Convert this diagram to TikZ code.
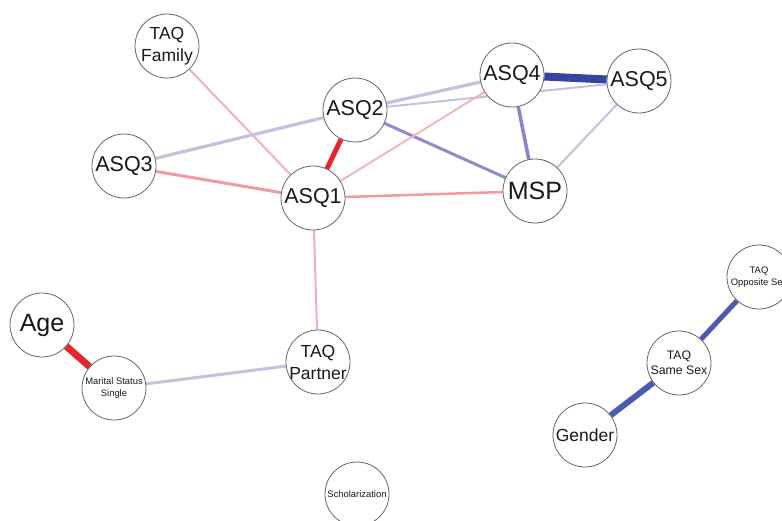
\documentclass[tikz,border=0pt]{standalone}
\usepackage{fontspec}
\setmainfont{Liberation Sans}
\usetikzlibrary{backgrounds}

\definecolor{pinkfaint}{HTML}{F6B0B5}
\definecolor{pinkmid}{HTML}{F29AA1}
\definecolor{redstrong}{HTML}{E4262E}
\definecolor{lavender}{HTML}{C3C0E3}
\definecolor{bluemid}{HTML}{8F8CCC}
\definecolor{bluestrong}{HTML}{4D5AB0}
\definecolor{bluedark}{HTML}{3444A0}

\begin{document}
\begin{tikzpicture}[
  x=1pt, y=-1pt,
  var/.style={
    circle,
    draw=black!60,
    line width=0.8pt,
    fill=white,
    minimum size=64pt,
    inner sep=0pt
  },
  every label/.style={
    align=center,
    text=black!90,
    inner sep=0pt
  },
  big/.style={font=\fontsize{21.5}{23}\selectfont},
  huge/.style={font=\fontsize{25}{27}\selectfont},
  mid/.style={font=\fontsize{17.5}{22}\selectfont},
  small/.style={font=\fontsize{12.3}{15}\selectfont},
  tiny/.style={font=\fontsize{9.4}{11.5}\selectfont},
  negline/.style={pinkfaint, line width=2pt},
  posline/.style={lavender, line width=3.2pt}
]
\useasboundingbox (0,0) rectangle (782,520);
\clip (0,0) rectangle (782,520);

\node[var, label={[mid]center:TAQ\\Family}] (fam) at (167,46) {};
\node[var, label={[big]center:ASQ2}] (asq2) at (355,110) {};
\node[var, label={[big]center:ASQ3}] (asq3) at (124,166) {};
\node[var, label={[big]center:ASQ1}] (asq1) at (313,198) {};
\node[var, label={[big]center:ASQ4}] (asq4) at (512,75) {};
\node[var, label={[big]center:ASQ5}] (asq5) at (639,81) {};
\node[var, label={[huge]center:MSP}] (msp) at (535,191) {};
\node[var, label={[huge]center:Age}] (age) at (42,325) {};
\node[var, label={[tiny]center:Marital Status\\Single}] (marital) at (114,388) {};
\node[var, label={[mid]center:TAQ\\Partner}] (partner) at (318,362) {};
\node[var, label={[tiny]center:Scholarization}] (school) at (357,494) {};
\node[var, label={[tiny]center:TAQ\\Opposite Sex}] (opposite) at (759,277) {};
\node[var, label={[small]center:TAQ\\Same Sex}] (samesex) at (679,363) {};
\node[var, label={[mid]center:Gender}] (gender) at (585,435) {};

\begin{scope}[on background layer]
\draw[negline] (fam) -- (asq1);
\draw[posline] (asq3) -- (asq2);
\draw[negline, pinkmid, line width=3pt] (asq3) -- (asq1);
\draw[negline, redstrong, line width=5pt] (asq2) -- (asq1);
\draw[posline] (asq2) -- (asq4);
\draw[posline, line width=2pt] (asq2) -- (asq5);
\draw[posline, bluemid, line width=3pt] (asq2) -- (msp);
\draw[negline, line width=1.8pt] (asq1) -- (asq4);
\draw[negline, pinkmid, line width=2.5pt] (asq1) -- (msp);
\draw[posline, bluedark, line width=8pt] (asq4) -- (asq5);
\draw[posline, bluemid!85!bluestrong, line width=3.5pt] (asq4) -- (msp);
\draw[posline, line width=2pt] (asq5) -- (msp);
\draw[negline] (asq1) -- (partner);
\draw[negline, redstrong, line width=7pt] (age) -- (marital);
\draw[posline, line width=3pt] (marital) -- (partner);
\draw[posline, bluestrong, line width=5pt] (samesex) -- (opposite);
\draw[posline, bluestrong, line width=6pt] (gender) -- (samesex);
\end{scope}
\end{tikzpicture}
\end{document}
